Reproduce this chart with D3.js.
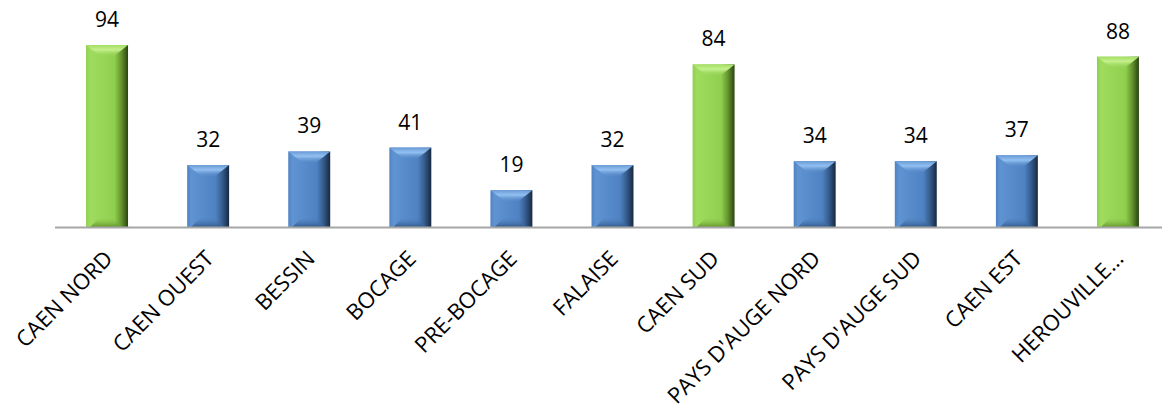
<!DOCTYPE html>
<html>
<head>
<meta charset="utf-8">
<script src="https://cdn.jsdelivr.net/npm/d3@7"></script>
<style>
  html, body { margin: 0; padding: 0; background: #ffffff; }
  svg { display: block; }
  text { font-family: "Open Sans", "Noto Sans", sans-serif; fill: #000; }
</style>
</head>
<body>
<svg id="chart" width="1162" height="416"></svg>
<script>
// Secteurs et effectifs
const categories = ["CAEN NORD", "CAEN OUEST", "BESSIN", "BOCAGE", "PRE-BOCAGE", "FALAISE",
                    "CAEN SUD", "PAYS D'AUGE NORD", "PAYS D'AUGE SUD", "CAEN EST", "HEROUVILLE..."];
const values = [94, 32, 39, 41, 19, 32, 84, 34, 34, 37, 88];
// Secteurs mis en avant (barres vertes)
const highlighted = ["CAEN NORD", "CAEN SUD", "HEROUVILLE..."];

const width = 1162, height = 416;
const baseY = 227;
const svg = d3.select("#chart");

const x = d3.scaleBand().domain(categories).range([56.5, 1168.5]).paddingInner(0.585).paddingOuter(0.2925);
const y = d3.scaleLinear().domain([0, 100]).range([baseY, baseY - 193.6]);

const palettes = {
  green: { face: "#8fcf4e", light: "#c4f08c", mid: "#a4de63", dark: "#2a4410", shade: "#64942f", lside: "#9fdc5e" },
  blue:  { face: "#4f82c2", light: "#93c0f2", mid: "#6a9bd6", dark: "#172840", shade: "#355b8c", lside: "#5f93d2" }
};

const defs = svg.append("defs");
Object.entries(palettes).forEach(([key, p]) => {
  // horizontal shading across the face: lit left edge, dark right edge
  const gh = defs.append("linearGradient").attr("id", "face-" + key)
    .attr("x1", 0).attr("x2", 1).attr("y1", 0).attr("y2", 0);
  gh.append("stop").attr("offset", "0").attr("stop-color", p.face);
  gh.append("stop").attr("offset", "0.1").attr("stop-color", p.lside);
  gh.append("stop").attr("offset", "0.68").attr("stop-color", p.face);
  gh.append("stop").attr("offset", "0.84").attr("stop-color", p.shade);
  gh.append("stop").attr("offset", "1").attr("stop-color", p.dark);

  const gt = defs.append("linearGradient").attr("id", "top-" + key)
    .attr("x1", 0).attr("x2", 0).attr("y1", 0).attr("y2", 1);
  gt.append("stop").attr("offset", "0").attr("stop-color", p.mid);
  gt.append("stop").attr("offset", "0.4").attr("stop-color", p.light);
  gt.append("stop").attr("offset", "1").attr("stop-color", p.face).attr("stop-opacity", 0.2);

  const gb = defs.append("linearGradient").attr("id", "bot-" + key)
    .attr("x1", 0).attr("x2", 0).attr("y1", 0).attr("y2", 1);
  gb.append("stop").attr("offset", "0").attr("stop-color", p.face).attr("stop-opacity", 0.1);
  gb.append("stop").attr("offset", "1").attr("stop-color", p.shade);
});

const data = categories.map((c, i) => ({ cat: c, value: values[i], key: highlighted.includes(c) ? "green" : "blue" }));

const bars = svg.append("g").selectAll("g").data(data).join("g");

bars.append("rect")
  .attr("x", d => x(d.cat))
  .attr("y", d => y(d.value))
  .attr("width", x.bandwidth())
  .attr("height", d => y(0) - y(d.value))
  .attr("fill", d => `url(#face-${d.key})`);

// top bevel facet
bars.append("path")
  .attr("d", d => {
    const x0 = x(d.cat), x1 = x0 + x.bandwidth(), t = y(d.value);
    return `M${x0},${t}L${x1},${t}L${x1 - 15},${t + 12}L${x0 + 15},${t + 12}Z`;
  })
  .attr("fill", d => `url(#top-${d.key})`);

// bottom bevel facet
bars.append("path")
  .attr("d", d => {
    const x0 = x(d.cat), x1 = x0 + x.bandwidth(), b = y(0);
    return `M${x0 + 4},${b}L${x1 - 6},${b}L${x1 - 15},${b - 9}L${x0 + 13},${b - 9}Z`;
  })
  .attr("fill", d => `url(#bot-${d.key})`);

// axis line
svg.append("line")
  .attr("x1", 55).attr("x2", width)
  .attr("y1", baseY + 0.5).attr("y2", baseY + 0.5)
  .attr("stroke", "#a6a6a6").attr("stroke-width", 2);

// value labels
svg.append("g").selectAll("text").data(data).join("text")
  .attr("x", d => x(d.cat) + x.bandwidth() / 2)
  .attr("y", d => y(d.value) - 18)
  .attr("text-anchor", "middle")
  .attr("font-size", 21)
  .text(d => d.value);

// category labels, rotated
svg.append("g").selectAll("text").data(categories).join("text")
  .attr("text-anchor", "end")
  .attr("transform", c => `translate(${x(c) + x.bandwidth() / 2 + 7},${baseY + 33}) rotate(-45)`)
  .attr("font-size", 22)
  .text(c => c);
</script>
</body>
</html>
